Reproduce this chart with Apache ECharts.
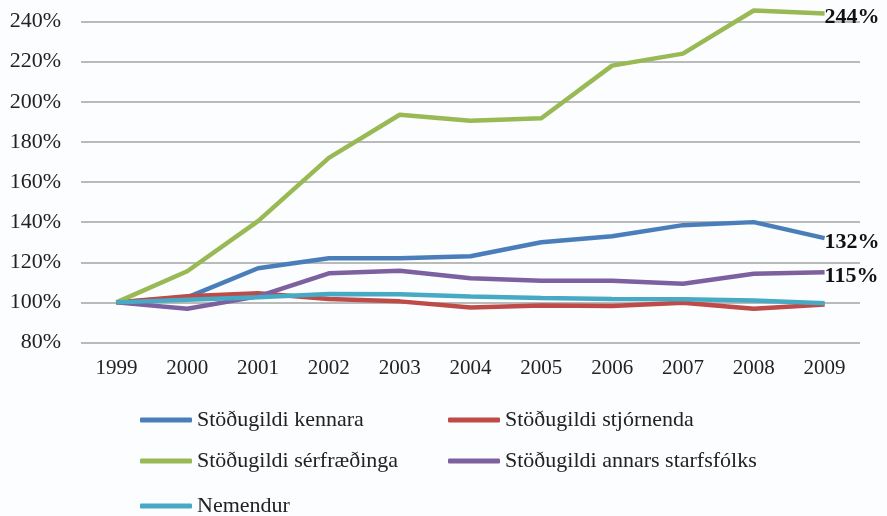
<!DOCTYPE html>
<html lang="is">
<head>
    <meta charset="UTF-8">
    <title>Stöðugildi</title>
    <style>
        html, body { margin: 0; padding: 0; background: #fcfdff; }
    </style>
</head>
<body>
<div id="main" style="width: 887px;height:516px;"></div>

<script src="https://cdn.jsdelivr.net/npm/echarts@6/dist/echarts.min.js"></script>
<script>
    var years = ['1999', '2000', '2001', '2002', '2003', '2004', '2005', '2006', '2007', '2008', '2009'];

    var kennara = [100, 102.5, 117, 122, 122, 123, 130, 133, 138.5, 140, 132];
    var stjornenda = [100, 103, 104.5, 101.7, 100.5, 97.5, 98.4, 98.2, 99.8, 96.8, 99];
    var serfraedinga = [100, 115.5, 140.5, 172, 193.5, 190.5, 191.8, 218, 224, 245.5, 244];
    var annars = [100, 96.8, 103, 114.5, 115.8, 112, 110.8, 110.8, 109.3, 114.3, 115];
    var nemendur = [100, 101.3, 102.5, 104.2, 104, 102.9, 102.2, 101.7, 101.6, 100.9, 99.6];

    var names = ['Stöðugildi kennara', 'Stöðugildi stjórnenda', 'Stöðugildi sérfræðinga',
        'Stöðugildi annars starfsfólks', 'Nemendur'];
    var colors = ['#4a7ebb', '#be4b48', '#98b954', '#7d60a0', '#46aac5'];
    var endLabels = [true, false, true, true, false];

    var serif = '"Liberation Serif", "DejaVu Serif", serif';

    var chart = echarts.init(document.getElementById('main'));

    var allData = [kennara, stjornenda, serfraedinga, annars, nemendur];
    var series = allData.map(function (d, i) {
        return {
            name: names[i],
            type: 'line',
            data: d,
            symbol: 'none',
            clip: false,
            lineStyle: { width: 4.5, color: colors[i] },
            itemStyle: { color: colors[i] },
            endLabel: {
                show: endLabels[i],
                distance: 0,
                offset: [0, 4],
                fontFamily: serif,
                fontWeight: 'bold',
                fontSize: 22,
                color: '#111',
                formatter: function (p) { return Math.round(p.value) + '%'; }
            }
        };
    });

    // one legend per item so the two columns line up
    var legendPos = [[140, 409], [448, 409], [140, 450], [448, 450], [140, 495]];
    var legends = names.map(function (n, i) {
        return {
            data: [n],
            left: legendPos[i][0],
            top: legendPos[i][1],
            icon: 'roundRect',
            itemWidth: 52,
            itemHeight: 5,
            itemGap: 0,
            padding: 0,
            textStyle: { fontFamily: serif, fontSize: 22, color: '#222' }
        };
    });

    var option = {
        backgroundColor: '#fcfdff',
        animation: false,
        color: colors,
        grid: { left: 81, right: 27, top: 21.5, bottom: 173.5 },
        legend: legends,
        xAxis: {
            type: 'category',
            data: years,
            boundaryGap: true,
            axisLine: { show: false },
            axisTick: { show: false },
            axisLabel: { fontFamily: serif, fontSize: 21, color: '#222', margin: 15 }
        },
        yAxis: {
            type: 'value',
            min: 80,
            max: 240,
            interval: 20,
            axisLine: { show: false },
            axisTick: { show: false },
            axisLabel: { fontFamily: serif, fontSize: 22, color: '#222', margin: 20, formatter: '{value}%' },
            splitLine: { lineStyle: { color: '#a3a3a3', width: 1.5 } }
        },
        series: series
    };

    option && chart.setOption(option);
</script>
</body>
</html>
